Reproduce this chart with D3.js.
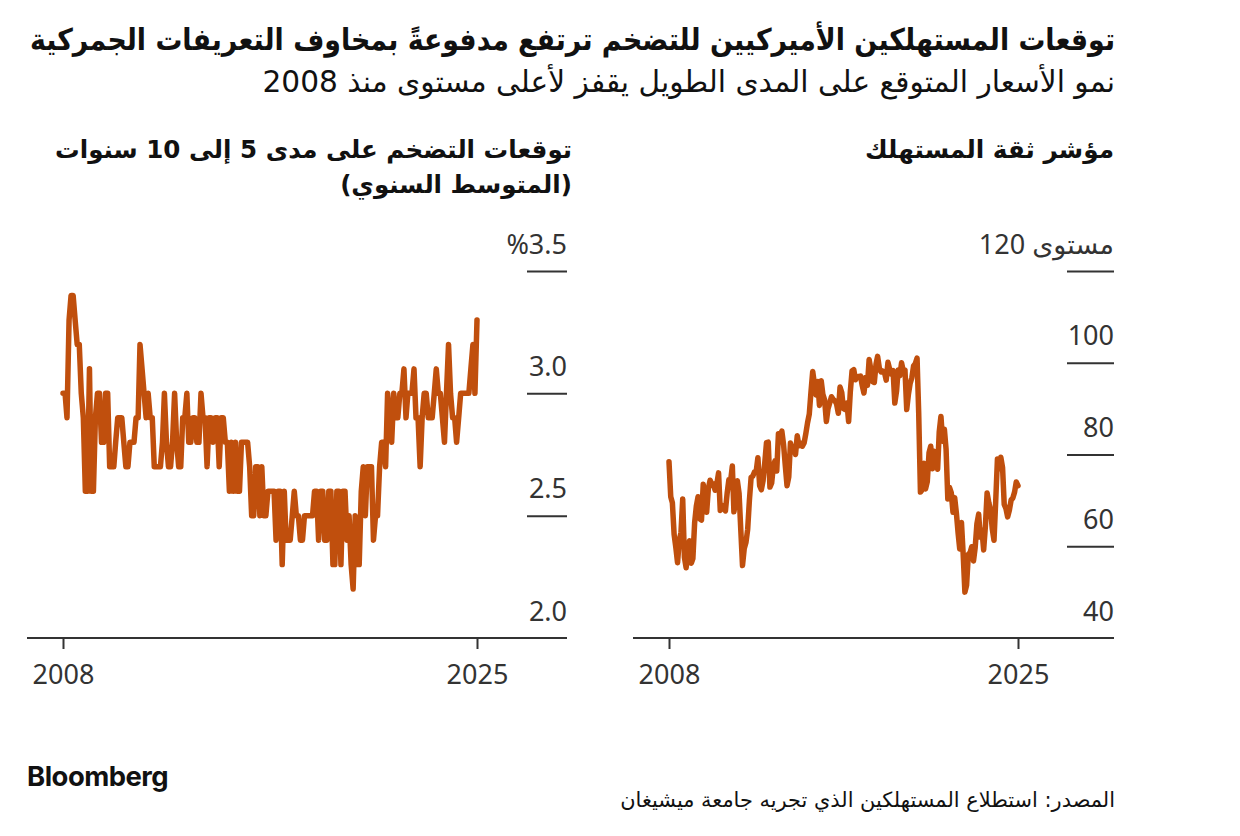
<!DOCTYPE html>
<html>
<head>
<meta charset="utf-8">
<script src="https://cdn.jsdelivr.net/npm/d3@7"></script>
<style>
  body { margin: 0; background: #fff; }
  svg { display: block; }
</style>
</head>
<body>
<script>
// data: monthly, Jan 2008 - Jan 2025

var months = d3.timeMonth.range(new Date(2008, 0, 1), new Date(2025, 1, 1));

// 5-10 year inflation expectations (%)
var inflation = [
  3.0,3.0,2.9,3.3,3.4,3.4,3.3,3.2,3.2,3.0,2.9,2.6, // 2008
  2.6,3.1,2.6,2.6,2.9,3.0,3.0,2.8,2.8,3.0,3.0,2.7, // 2009
  2.7,2.7,2.8,2.9,2.9,2.9,2.8,2.7,2.7,2.8,2.8,2.8, // 2010
  2.9,2.9,3.2,3.1,3.0,2.9,3.0,2.9,2.9,2.7,2.7,2.7, // 2011
  2.7,2.8,3.0,2.8,2.7,2.7,2.8,3.0,2.8,2.7,2.7,2.9, // 2012
  2.9,3.0,2.8,2.8,2.9,2.9,2.8,2.8,3.0,2.9,2.9,2.7, // 2013
  2.9,2.9,2.8,2.9,2.9,2.7,2.9,2.9,2.8,2.8,2.6,2.8, // 2014
  2.6,2.8,2.6,2.6,2.8,2.8,2.8,2.8,2.7,2.5,2.5,2.7, // 2015
  2.7,2.5,2.7,2.5,2.5,2.6,2.6,2.6,2.6,2.4,2.6,2.6, // 2016
  2.3,2.6,2.4,2.4,2.4,2.5,2.6,2.5,2.5,2.4,2.4,2.5, // 2017
  2.5,2.5,2.5,2.5,2.6,2.6,2.4,2.6,2.6,2.4,2.4,2.6, // 2018
  2.6,2.3,2.3,2.6,2.6,2.3,2.6,2.6,2.4,2.5,2.3,2.2, // 2019
  2.5,2.3,2.3,2.6,2.7,2.5,2.7,2.7,2.7,2.4,2.5,2.5, // 2020
  2.7,2.8,2.8,2.7,3.0,2.9,2.8,3.0,2.9,2.9,3.0,3.0, // 2021
  3.1,2.9,3.0,3.0,3.0,3.1,2.9,2.9,2.7,2.9,3.0,3.0, // 2022
  2.9,2.9,2.9,3.0,3.1,3.0,3.0,2.9,2.8,3.0,3.2,3.0, // 2023
  2.9,2.9,2.8,2.9,3.0,3.0,3.0,3.0,3.0,3.1,3.2,3.0, // 2024
  3.3                                              // 2025
];

// consumer sentiment index
var sentiment = [
  78.4,70.8,69.5,62.6,59.8,56.4,61.2,63.0,70.3,57.6,55.3,60.1,
  61.2,56.3,57.3,65.1,68.7,70.8,66.0,65.7,73.5,70.6,67.4,72.5,
  74.4,73.6,73.6,72.2,73.6,76.0,67.8,68.9,68.2,67.7,71.6,74.5,
  74.2,77.5,67.5,69.8,74.3,71.5,63.7,55.8,59.5,60.8,63.7,69.9,
  75.0,75.3,76.2,76.4,79.3,73.2,72.3,74.3,78.3,82.6,82.7,72.9,
  73.8,77.6,78.6,76.4,84.5,84.1,85.1,82.1,77.5,73.2,75.1,82.5,
  81.2,81.6,80.0,84.1,81.9,82.5,81.8,82.5,84.6,86.9,88.8,93.6,
  98.1,95.4,93.0,95.9,90.7,96.1,93.1,91.9,87.2,90.0,91.3,92.6,
  92.0,91.7,91.0,89.0,94.7,93.5,90.0,89.8,91.2,87.2,93.8,98.2,
  98.5,96.3,96.9,97.0,97.1,95.0,93.4,96.8,95.1,100.7,98.5,95.9,
  95.7,99.7,101.4,98.8,98.0,98.2,97.9,96.2,100.1,98.6,97.5,98.3,
  91.2,93.8,98.4,97.2,100.0,98.2,98.4,89.8,93.2,95.5,96.8,99.3,
  99.8,101.0,89.1,71.8,72.3,78.1,72.5,74.1,80.4,81.8,76.9,80.7,
  79.0,76.8,84.9,88.3,82.9,85.5,81.2,70.3,72.8,71.7,67.4,70.6,
  67.2,62.8,59.4,65.2,58.4,50.0,51.5,58.2,58.6,59.9,56.8,59.7,
  64.9,67.0,62.0,63.5,59.2,64.4,71.6,69.5,67.9,63.8,61.3,69.7,
  79.0,76.9,79.4,77.2,69.1,68.2,66.4,67.9,70.1,70.5,71.8,74.0,
  73.2
];

var inflationTicks = [2.0, 2.5, 3.0, 3.5];
var sentimentTicks = [40, 60, 80, 100, 120];
var yearTicks = [new Date(2008, 0, 1), new Date(2025, 0, 1)];

var title = "توقعات المستهلكين الأميركيين للتضخم ترتفع مدفوعةً بمخاوف التعريفات الجمركية";
var subtitle = "نمو الأسعار المتوقع على المدى الطويل يقفز لأعلى مستوى منذ 2008";
var leftHeader = ["توقعات التضخم على مدى 5 إلى 10 سنوات", "(المتوسط السنوي)"];
var rightHeader = ["مؤشر ثقة المستهلك"];
var source = "المصدر: استطلاع المستهلكين الذي تجريه جامعة ميشيغان";

var lineColor = "#c04f0d",
    ink = "#333333",
    arabicFont = "'DejaVu Sans', sans-serif",
    numFont = "'Noto Sans', 'Open Sans', sans-serif";

var svg = d3.select("body").append("svg")
    .attr("width", 1240)
    .attr("height", 836);

// right-aligned arabic text, sized to the width
function rtlText(x, y, str, size, weight, fitWidth, squeeze) {
    var t = svg.append("text")
        .attr("x", x)
        .attr("y", y)
        .attr("direction", "rtl")
        .attr("text-anchor", "start")
        .attr("font-family", arabicFont)
        .attr("font-size", size)
        .attr("font-weight", weight)
        .attr("fill", "#111")
        .text(str);
    var w = t.node().getComputedTextLength();
    if (squeeze) {
        t.attr("textLength", fitWidth).attr("lengthAdjust", "spacingAndGlyphs");
    } else {
        t.attr("font-size", size * fitWidth / w);
    }
    return t;
}

rtlText(1115, 50, title, 30, "bold", 1085, true);
rtlText(1115, 92, subtitle, 25, "normal", 853, false);
rtlText(572, 158, leftHeader[0], 23, "bold", 517, false);
rtlText(572, 193, leftHeader[1], 23, "bold", 232, false);
rtlText(1114, 158, rightHeader[0], 23, "bold", 249, false);
rtlText(1115, 807, source, 18, "normal", 495, false);

var logo = svg.append("text")
    .attr("x", 27).attr("y", 786)
    .attr("font-family", "Inter, Roboto, sans-serif")
    .attr("font-weight", "bold")
    .attr("font-size", 26)
    .attr("letter-spacing", -0.5)
    .attr("fill", "#111")
    .text("Bloomberg");
logo.attr("font-size", 26 * 141 / logo.node().getComputedTextLength());

// one panel: line chart with labels on the right
function panel(opt) {
    var x = d3.scaleTime()
        .domain(d3.extent(months))
        .range([opt.x0, opt.x1]);

    var y = d3.scaleLinear()
        .domain(opt.yDomain)
        .range([638, 271]);

    var g = svg.append("g");

    // baseline
    g.append("line")
        .attr("x1", opt.axisLeft).attr("x2", opt.axisRight)
        .attr("y1", y(opt.yDomain[0])).attr("y2", y(opt.yDomain[0]))
        .attr("stroke", ink).attr("stroke-width", 2);

    var xAxis = d3.axisBottom(x)
        .tickValues(yearTicks)
        .tickSize(11)
        .tickPadding(16)
        .tickFormat(d3.timeFormat("%Y"));

    var gx = g.append("g")
        .attr("transform", "translate(0," + y(opt.yDomain[0]) + ")")
        .call(xAxis);
    gx.select(".domain").remove();
    gx.selectAll(".tick line").attr("stroke", ink).attr("stroke-width", 2);
    gx.selectAll(".tick text")
        .attr("fill", ink)
        .attr("font-family", numFont)
        .attr("font-size", 27);

    var yAxis = d3.axisLeft(y)
        .tickValues(opt.ticks)
        .tickSize(opt.tickLen)
        .tickFormat(opt.format);

    var gy = g.append("g")
        .attr("transform", "translate(" + opt.axisRight + ",0)")
        .call(yAxis);
    gy.select(".domain").remove();
    gy.selectAll(".tick line")
        .attr("stroke", ink).attr("stroke-width", 2)
        .filter(function(d) { return d === opt.yDomain[0]; }).remove();
    gy.selectAll(".tick text")
        .attr("x", 0)
        .attr("dy", -18)
        .attr("fill", ink)
        .attr("font-family", numFont)
        .attr("font-size", 27)
        .attr("text-anchor", "end");
    if (opt.rtlTop) {
        gy.selectAll(".tick text")
            .filter(function(d) { return d === opt.ticks[opt.ticks.length - 1]; })
            .attr("direction", "rtl")
            .attr("text-anchor", "start")
            .attr("font-family", "'Noto Sans', 'DejaVu Sans', sans-serif");
    }
    svg.selectAll(".tick text").attr("font-weight", "normal");

    var line = d3.line()
        .x(function(d, i) { return x(months[i]); })
        .y(function(d) { return y(d); });

    g.append("path")
        .datum(opt.values)
        .attr("fill", "none")
        .attr("stroke", lineColor)
        .attr("stroke-width", 5.5)
        .attr("stroke-linejoin", "round")
        .attr("stroke-linecap", "round")
        .attr("d", line);
}

panel({
    values: inflation,
    x0: 63, x1: 477,
    axisLeft: 27, axisRight: 567,
    yDomain: [2.0, 3.5],
    ticks: inflationTicks,
    tickLen: 40,
    format: function(d) { return d === 3.5 ? "%3.5" : d3.format(".1f")(d); }
});

panel({
    values: sentiment,
    x0: 669, x1: 1018,
    axisLeft: 633, axisRight: 1114,
    yDomain: [40, 120],
    ticks: sentimentTicks,
    tickLen: 47,
    rtlTop: true,
    format: function(d) { return d === 120 ? "مستوى 120" : d; }
});
</script>
</body>
</html>
